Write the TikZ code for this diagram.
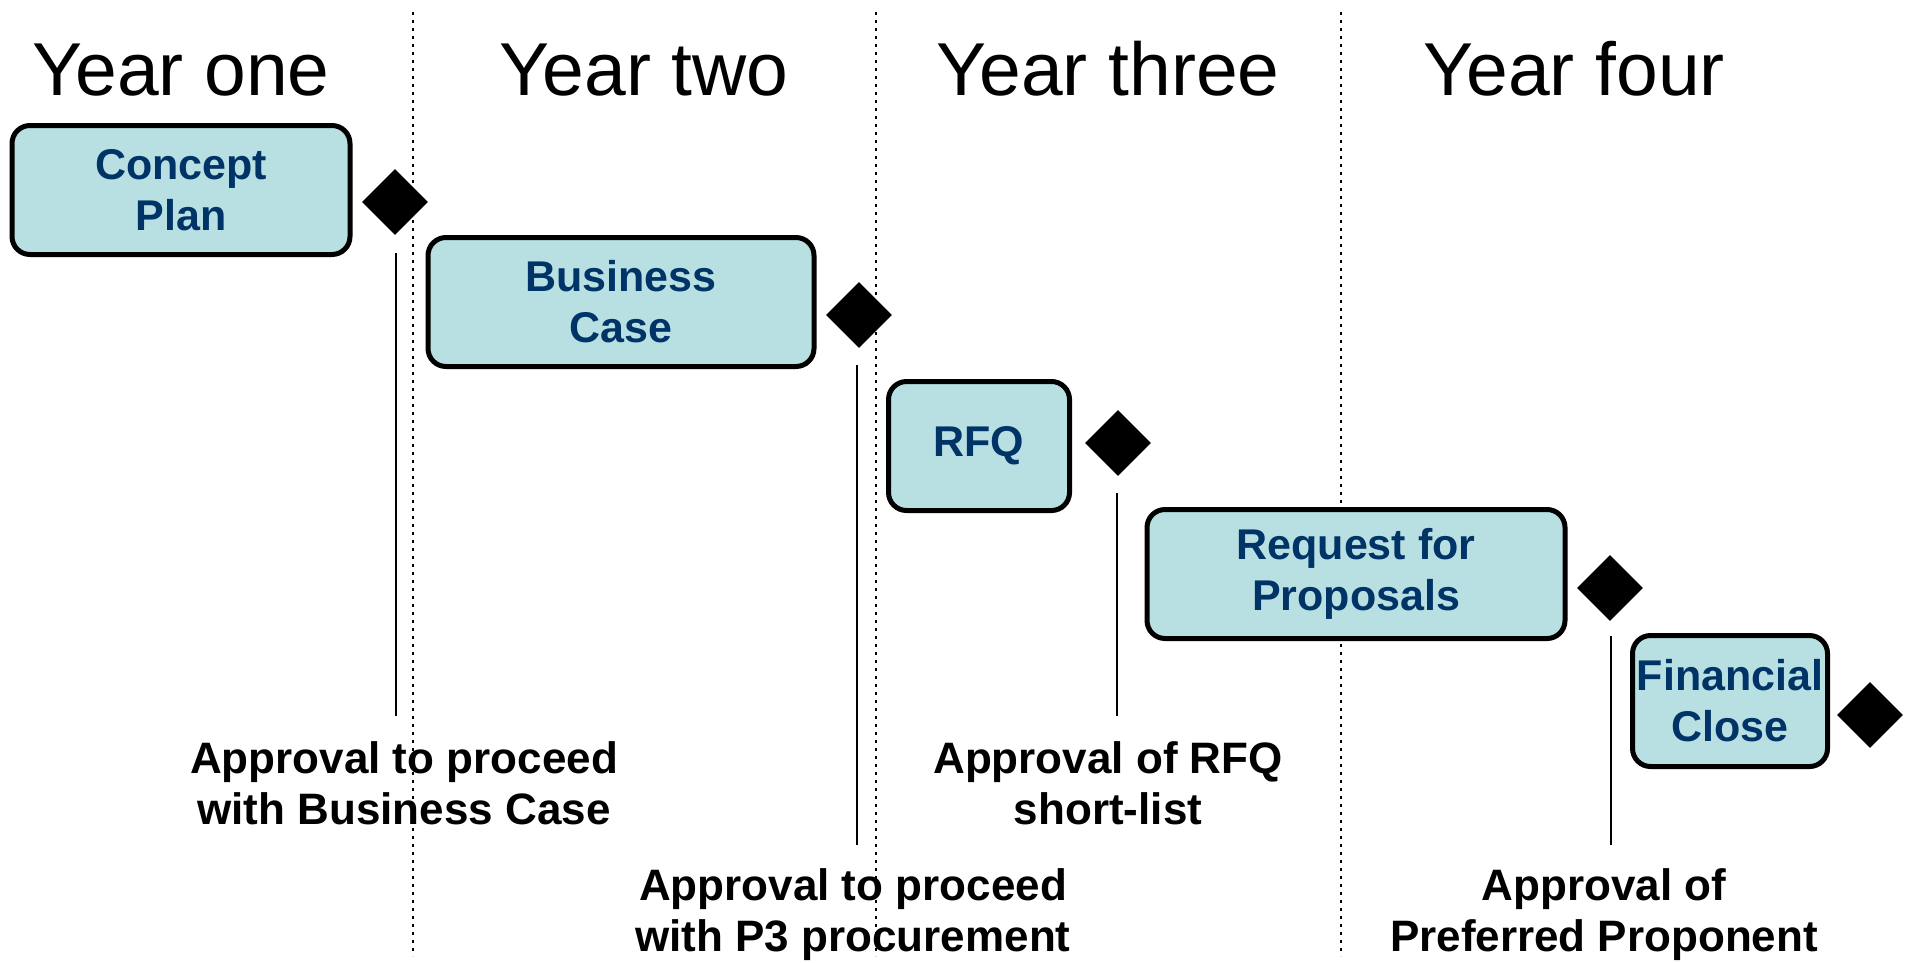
\documentclass[tikz,border=0pt]{standalone}
\usepackage{fontspec}
\setmainfont{Liberation Sans}
\usetikzlibrary{shapes.geometric}
\definecolor{boxfill}{HTML}{B8E0E3}
\definecolor{navy}{HTML}{003366}
\begin{document}
\begin{tikzpicture}[x=1pt,y=-1pt,
  phase/.style={draw=black,line width=5pt,fill=boxfill,rounded corners=18pt,
    minimum height=129pt,align=center,inner sep=0pt,text=navy,
    font=\fontsize{43}{51}\selectfont\bfseries},
  milestone/.style={diamond,fill=black,draw=none,minimum width=66pt,minimum height=66pt,inner sep=0pt},
  yearlbl/.style={font=\fontsize{75}{80}\selectfont,inner sep=0pt,anchor=base},
  approval/.style={align=center,font=\fontsize{44}{51}\selectfont\bfseries,inner sep=0pt},
  divider/.style={line width=2.5pt,dash pattern=on 2.5pt off 5.5pt},
  tick/.style={line width=2pt}]
\useasboundingbox (0,0) rectangle (1910,962);
% dividers
\coordinate (v1t) at (413,12); \coordinate (v1b) at (413,956);
\coordinate (v2t) at (876,12); \coordinate (v2b) at (876,956);
\coordinate (v3t) at (1341,12); \coordinate (v3b) at (1341,956);
\draw[divider] (v1t) -- (v1b);
\draw[divider] (v2t) -- (v2b);
\draw[divider] (v3t) -- (v3b);
% years
\node[yearlbl] (y1) at (181,95) {Year one};
\node[yearlbl] (y2) at (644,95) {Year two};
\node[yearlbl] (y3) at (1108,95) {Year three};
\node[yearlbl] (y4) at (1574,95) {Year four};
% phases
\node[phase,minimum width=338pt] (p1) at (181,190) {Concept\\Plan};
\node[phase,minimum width=386pt] (p2) at (621,302) {Business\\Case};
\node[phase,minimum width=181pt] (p3) at (979,446) {RFQ};
\node[phase,minimum width=418pt] (p4) at (1356,574) {Request for\\Proposals};
\node[phase,minimum width=195pt,minimum height=131pt] (p5) at (1730,701) {Financial\\Close};
% milestones
\node[milestone] (m1) at (395,202) {};
\node[milestone] (m2) at (859,315) {};
\node[milestone] (m3) at (1118,443) {};
\node[milestone] (m4) at (1610,588) {};
\node[milestone] (m5) at (1870,715) {};
% approval labels
\node[approval] (a1) at (404,783) {Approval to proceed\\with Business Case};
\node[approval] (a2) at (853,915) {Approval to proceed\\with P3 procurement};
\node[approval] (a3) at (1108,783) {Approval of RFQ\\short-list};
\node[approval] (a4) at (1604,915) {Approval of\\Preferred Proponent};
% ticks
\coordinate (t1a) at (396,253); \coordinate (t1b) at (396,716);
\coordinate (t2a) at (857,365); \coordinate (t2b) at (857,845);
\coordinate (t3a) at (1117,493); \coordinate (t3b) at (1117,716);
\coordinate (t4a) at (1611,636); \coordinate (t4b) at (1611,845);
\draw[tick] (t1a) -- (t1b);
\draw[tick] (t2a) -- (t2b);
\draw[tick] (t3a) -- (t3b);
\draw[tick] (t4a) -- (t4b);
\end{tikzpicture}
\end{document}
